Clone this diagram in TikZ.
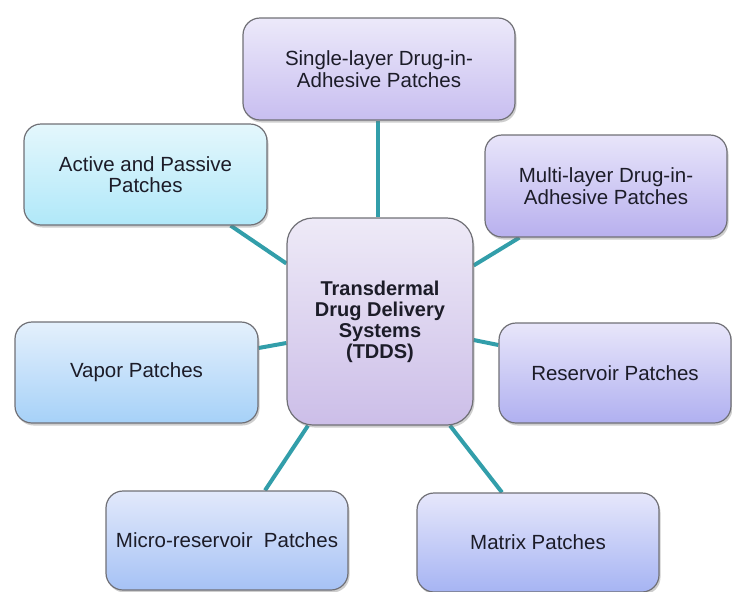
\documentclass[tikz,border=0pt]{standalone}
\usepackage{fontspec}
\setmainfont{Liberation Sans}
\usetikzlibrary{shadows,backgrounds}
\definecolor{linkc}{RGB}{50,158,170}
\definecolor{edgec}{RGB}{112,112,118}
\definecolor{txtc}{RGB}{28,28,40}
\tikzset{
  box/.style={draw=edgec, line width=1.2pt, rounded corners=17pt, align=center,
    text=txtc, font=\fontsize{20.5}{21.5}\selectfont, inner sep=4pt,
    drop shadow={shadow xshift=1.5pt, shadow yshift=-2.5pt, opacity=0.35, fill=black!55}},
  link/.style={draw=linkc, line width=4pt}
}
\begin{document}
\begin{tikzpicture}[x=1pt,y=-1pt]
\useasboundingbox (0,0) rectangle (732,592);
\node[box, minimum width=186pt, minimum height=207pt, rounded corners=26pt,
  top color={rgb,255:red,238;green,234;blue,247}, bottom color={rgb,255:red,204;green,190;blue,232},
  font=\fontsize{20}{21}\selectfont\bfseries] (ctr) at (380,321.5) {Transdermal\\Drug Delivery\\Systems\\(TDDS)};
\node[box, minimum width=272pt, minimum height=102pt,
  top color={rgb,255:red,236;green,233;blue,250}, bottom color={rgb,255:red,200;green,190;blue,240}] (top) at (379,69) {Single-layer Drug-in-\\Adhesive Patches};
\node[box, minimum width=243pt, minimum height=101pt,
  top color={rgb,255:red,228;green,247;blue,252}, bottom color={rgb,255:red,176;green,232;blue,249}] (act) at (145.5,174.5) {Active and Passive\\Patches};
\node[box, minimum width=242pt, minimum height=102pt,
  top color={rgb,255:red,232;green,229;blue,250}, bottom color={rgb,255:red,184;green,176;blue,238}] (mul) at (606,186) {Multi-layer Drug-in-\\Adhesive Patches};
\node[box, minimum width=243pt, minimum height=101pt,
  top color={rgb,255:red,228;green,240;blue,252}, bottom color={rgb,255:red,166;green,209;blue,248}] (vap) at (136.5,372.5) {Vapor Patches};
\node[box, minimum width=232pt, minimum height=100pt,
  top color={rgb,255:red,232;green,230;blue,250}, bottom color={rgb,255:red,176;green,176;blue,240}] (res) at (615,373) {Reservoir Patches};
\node[box, minimum width=242pt, minimum height=99pt,
  top color={rgb,255:red,226;green,233;blue,251}, bottom color={rgb,255:red,166;green,194;blue,245}] (mic) at (227,540.5) {Micro-reservoir~ Patches};
\node[box, minimum width=242pt, minimum height=99pt,
  top color={rgb,255:red,230;green,231;blue,251}, bottom color={rgb,255:red,166;green,180;blue,243}] (mat) at (538,542.5) {Matrix Patches};
\begin{scope}[on background layer]
\draw[link] ([xshift=-1pt]top.south) -- ([xshift=-2pt]ctr.north);
\draw[link] ([xshift=-37pt]act.south east) -- ([yshift=58pt]ctr.west);
\draw[link] ([yshift=56pt]ctr.east) -- ([xshift=35pt]mul.south west);
\draw[link] ([yshift=24.5pt]vap.east) -- ([yshift=-21.5pt]ctr.west);
\draw[link] ([yshift=-18.5pt]ctr.east) -- ([yshift=28pt]res.west);
\draw[link] ([xshift=38pt]mic.north) -- ([xshift=-72pt]ctr.south);
\draw[link] ([xshift=-36pt]mat.north) -- ([xshift=70pt]ctr.south);
\end{scope}
\end{tikzpicture}
\end{document}
